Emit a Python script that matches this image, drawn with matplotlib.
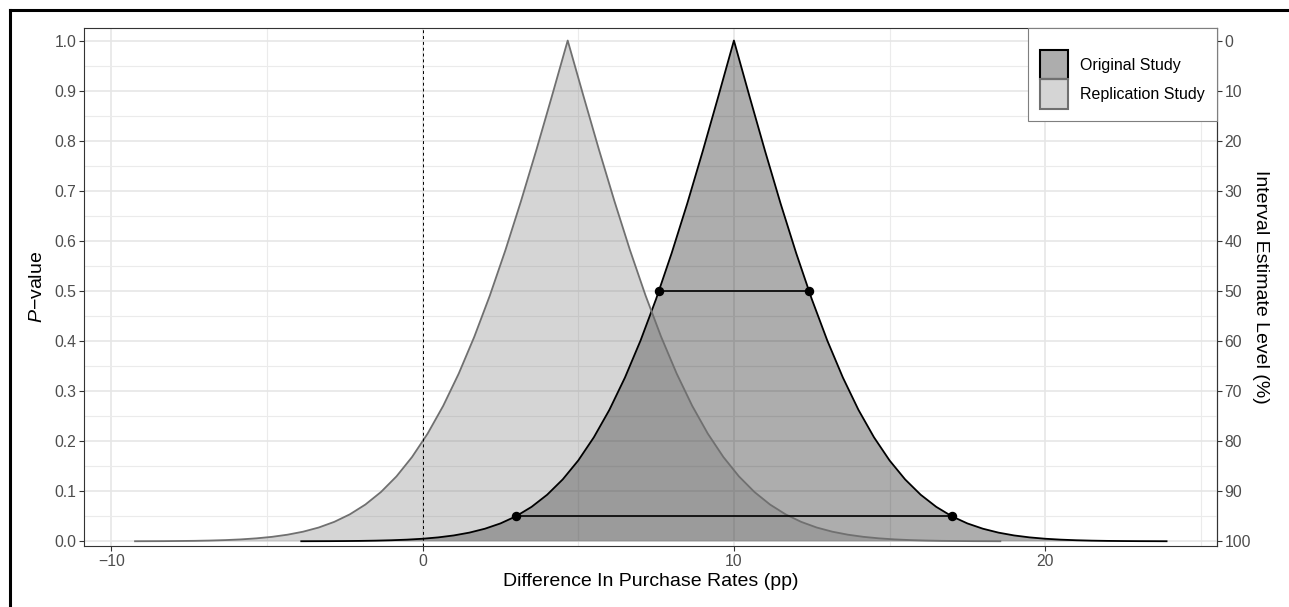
import matplotlib
matplotlib.use("Agg")
import matplotlib.pyplot as plt
from matplotlib.patches import Patch
from matplotlib.lines import Line2D

plt.rcParams["font.family"] = ["Liberation Sans", "DejaVu Sans"]
plt.rcParams["mathtext.fontset"] = "custom"
plt.rcParams["mathtext.it"] = "Liberation Sans:italic"
plt.rcParams["mathtext.rm"] = "Liberation Sans"

# ======================
# data
# ======================
orig_x = [-3.9, -3.5, -3.0, -2.5, -2.0, -1.5, -1.0, -0.5, 0.0, 0.5, 1.0, 1.5, 2.0,
          2.5, 3.0, 3.5, 4.0, 4.5, 5.0, 5.5, 6.0, 6.5, 7.0, 7.5, 8.0, 8.5, 9.0, 9.5,
          10.0,
          10.5, 11.0, 11.5, 12.0, 12.5, 13.0, 13.5, 14.0, 14.5, 15.0, 15.5, 16.0,
          16.5, 17.0, 17.5, 18.0, 18.5, 19.0, 19.5, 20.0, 20.5, 21.0, 21.5, 22.0,
          22.5, 23.0, 23.5, 23.9]
orig_p = [0.0001, 0.0002, 0.0003, 0.0005, 0.0008, 0.0013, 0.0021, 0.0033, 0.0051,
          0.0078, 0.0117, 0.0173, 0.0251, 0.0357, 0.0500, 0.0688, 0.0930, 0.1236,
          0.1615, 0.2077, 0.2626, 0.3271, 0.4009, 0.4839, 0.5755, 0.6744, 0.7795,
          0.8887, 1.0,
          0.8887, 0.7795, 0.6744, 0.5755, 0.4839, 0.4009, 0.3271, 0.2626, 0.2077,
          0.1615, 0.1236, 0.0930, 0.0688, 0.0500, 0.0357, 0.0251, 0.0173, 0.0117,
          0.0078, 0.0051, 0.0033, 0.0021, 0.0013, 0.0008, 0.0005, 0.0003, 0.0002,
          0.0001]

rep_x = [-9.24, -8.84, -8.34, -7.84, -7.34, -6.84, -6.34, -5.84, -5.34, -4.84,
         -4.34, -3.84, -3.34, -2.84, -2.34, -1.84, -1.34, -0.84, -0.34, 0.16, 0.66,
         1.16, 1.66, 2.16, 2.66, 3.16, 3.66, 4.16, 4.66,
         5.16, 5.66, 6.16, 6.66, 7.16, 7.66, 8.16, 8.66, 9.16, 9.66, 10.16, 10.66,
         11.16, 11.66, 12.16, 12.66, 13.16, 13.66, 14.16, 14.66, 15.16, 15.66,
         16.16, 16.66, 17.16, 17.66, 18.16, 18.56]
rep_p = [0.0001, 0.0002, 0.0003, 0.0006, 0.0009, 0.0015, 0.0024, 0.0038, 0.0059,
         0.0089, 0.0132, 0.0192, 0.0275, 0.0388, 0.0538, 0.0734, 0.0984, 0.1297,
         0.1684, 0.2151, 0.2705, 0.3350, 0.4086, 0.4910, 0.5816, 0.6795, 0.7829,
         0.8905, 1.0,
         0.8905, 0.7829, 0.6795, 0.5816, 0.4910, 0.4086, 0.3350, 0.2705, 0.2151,
         0.1684, 0.1297, 0.0984, 0.0734, 0.0538, 0.0388, 0.0275, 0.0192, 0.0132,
         0.0089, 0.0059, 0.0038, 0.0024, 0.0015, 0.0009, 0.0006, 0.0003, 0.0002,
         0.0001]

# interval estimates of the original study
ci_level = [50, 95]
ci_low = [7.59, 3.0]
ci_high = [12.41, 17.0]

labels = ["Original Study", "Replication Study"]

# ======================
# styles
# ======================
ORIG_FILL = (0, 0, 0, 0.32)
REP_FILL = (112 / 255, 112 / 255, 112 / 255, 0.29)
REP_LINE = "#707070"
GRID = "#EBEBEB"
BORDER = "#333333"
TICKTXT = "#4D4D4D"

W, H = 1289, 607
fig = plt.figure(figsize=(W / 100, H / 100), dpi=100)
ax = fig.add_axes([84 / W, 1 - 546 / H, (1217 - 84) / W, (546 - 28) / H])

ax.fill_between(orig_x, orig_p, 0, facecolor=ORIG_FILL, lw=0, zorder=2)
ax.fill_between(rep_x, rep_p, 0, facecolor=REP_FILL, lw=0, zorder=2)
ax.plot(orig_x, orig_p, color="black", lw=1.3, zorder=3)
ax.plot(rep_x, rep_p, color=REP_LINE, lw=1.3, zorder=3)

for lev, lo, hi in zip(ci_level, ci_low, ci_high):
    pv = 1 - lev / 100
    ax.plot([lo, hi], [pv, pv], color="black", lw=1.2, zorder=4)
    ax.plot([lo, hi], [pv, pv], "o", color="black", ms=5.8, zorder=5)

ax.axvline(0, color="black", lw=0.7, ls=(0, (3, 3)), zorder=3)

ax.set_xlim(-10.88, 25.52)
ax.set_ylim(-0.0094, 1.025)
ax.set_xticks([-10, 0, 10, 20])
ax.set_xticks([-5, 5, 15, 25], minor=True)
ax.set_yticks([i / 10 for i in range(11)])
ax.set_yticks([i / 20 for i in range(1, 20, 2)], minor=True)
ax.set_yticklabels([f"{i / 10:.1f}" for i in range(11)])

ax.grid(True, which="major", color="#E6E6E6", lw=1.2)
ax.grid(True, which="minor", color=GRID, lw=0.8)
ax.set_axisbelow(True)

for s in ax.spines.values():
    s.set_color(BORDER)
    s.set_linewidth(0.8)
ax.tick_params(which="major", length=3.5, width=0.8, color=BORDER,
               labelcolor=TICKTXT, labelsize=11.3, pad=2)
ax.tick_params(which="minor", length=0)

ax.set_xlabel("Difference In Purchase Rates (pp)", fontsize=14, labelpad=3)
ax.set_ylabel(r"$P$" + "\u2212value", fontsize=14, labelpad=6)

sec = ax.secondary_yaxis("right", functions=(lambda p: 100 * (1 - p),
                                             lambda v: 1 - v / 100))
sec.set_yticks(list(range(0, 101, 10)))
sec.spines["right"].set_color(BORDER)
sec.spines["right"].set_linewidth(0.8)
sec.tick_params(length=3.5, width=0.8, color=BORDER, labelcolor=TICKTXT,
                labelsize=11.3, pad=2)
sec.set_ylabel("Interval Estimate Level (%)", fontsize=14, rotation=-90,
               labelpad=13)

handles = [Patch(facecolor=ORIG_FILL, edgecolor="black", lw=1.5),
           Patch(facecolor=REP_FILL, edgecolor=REP_LINE, lw=1.5)]
leg = ax.legend(handles, labels, loc="upper right", bbox_to_anchor=(1, 1),
                fontsize=11.5, handlelength=1.8, handleheight=2.45,
                labelspacing=0.0, handletextpad=0.75, borderpad=0.75,
                borderaxespad=0, fancybox=False, framealpha=1,
                edgecolor="#7F7F7F", title=" ", title_fontsize=7.5)
leg.get_frame().set_linewidth(0.8)
leg.set_zorder(10)

# outer frame (left and top edges)
fig.add_artist(Line2D([10 / W, 10 / W], [0, 1 - 10 / H], transform=fig.transFigure,
                      color="black", lw=2.2))
fig.add_artist(Line2D([10 / W, 1], [1 - 10 / H, 1 - 10 / H], transform=fig.transFigure,
                      color="black", lw=2.2))

fig.savefig("out.png", dpi=100)
